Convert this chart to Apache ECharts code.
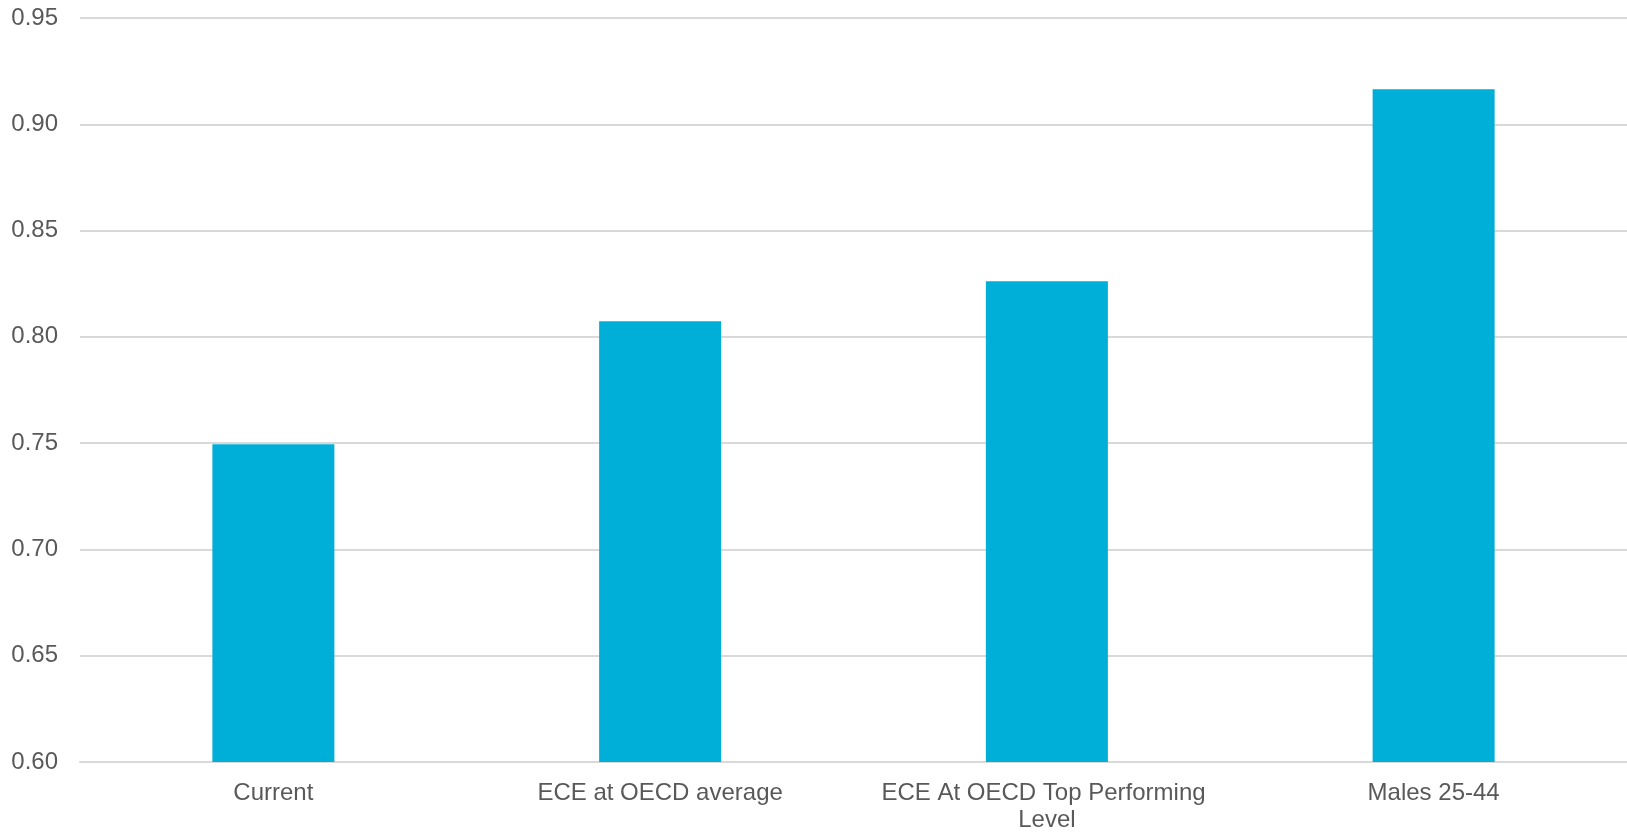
<!DOCTYPE html>
<html>
<head>
<meta charset="utf-8">
<script src="https://cdn.jsdelivr.net/npm/echarts@6/dist/echarts.min.js"></script>
<style>
  html, body { margin: 0; padding: 0; background: #ffffff; }
  #chart { width: 1627px; height: 834px; }
</style>
</head>
<body>
<div id="chart"></div>
<script>
// Scenario categories and their values
const categories = [
  'Current',
  'ECE at OECD average',
  'ECE At OECD Top Performing Level',
  'Males 25-44'
];
const values = [0.7495, 0.8073, 0.8262, 0.9165];

// Value axis range
const yMin = 0.60;
const yMax = 0.95;
const yStep = 0.05;

const chart = echarts.init(document.getElementById('chart'), null, { renderer: 'canvas' });

const labelFont = {
  fontFamily: '"Liberation Sans", Arial, sans-serif',
  fontSize: 24,
  color: '#595959'
};

chart.setOption({
  animation: false,
  backgroundColor: '#ffffff',
  grid: { left: 80, right: 0, top: 18, bottom: 68, containLabel: false },
  xAxis: {
    type: 'category',
    data: categories,
    axisTick: { show: false },
    axisLine: { show: true, lineStyle: { color: '#d9d9d9', width: 2 } },
    axisLabel: Object.assign({
      interval: 0,
      margin: 18,
      width: 340,
      overflow: 'break',
      lineHeight: 27,
      align: 'center'
    }, labelFont)
  },
  yAxis: {
    type: 'value',
    min: yMin,
    max: yMax,
    interval: yStep,
    axisLine: { show: false },
    axisTick: { show: false },
    splitLine: { show: true, lineStyle: { color: '#d9d9d9', width: 2 } },
    axisLabel: Object.assign({
      margin: 22,
      formatter: function (v) { return v.toFixed(2); }
    }, labelFont)
  },
  series: [{
    type: 'bar',
    data: values,
    barWidth: 122,
    itemStyle: { color: '#00AFD8' }
  }]
});
</script>
</body>
</html>
